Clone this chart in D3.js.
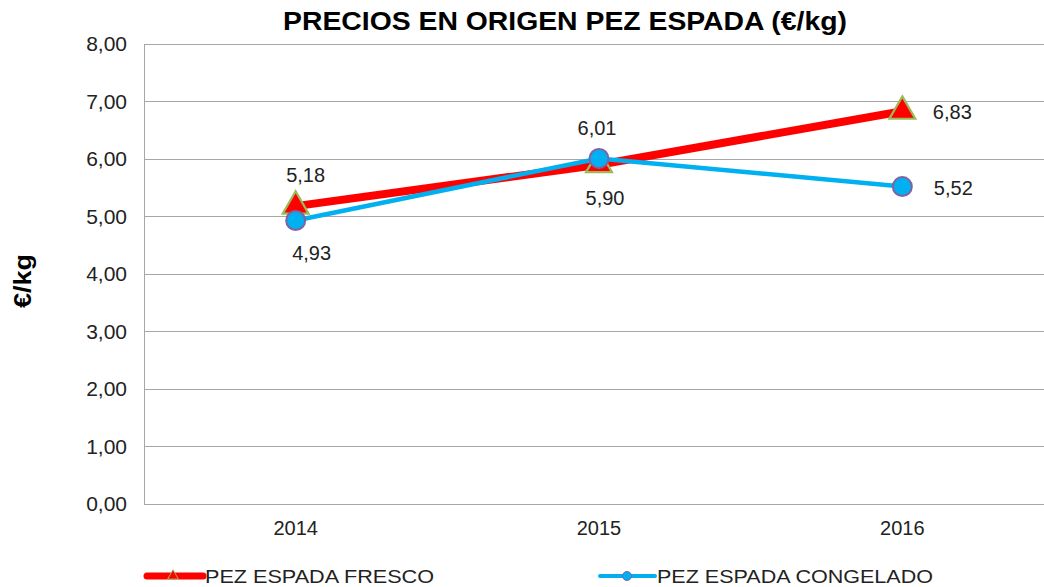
<!DOCTYPE html>
<html><head><meta charset="utf-8">
<script src="https://cdn.jsdelivr.net/npm/d3@7"></script>
<style>body{margin:0;background:#fff}svg{display:block;font-family:"Liberation Sans",Arial,sans-serif}</style>
</head><body><svg id="c" width="1044" height="587"></svg>
<script>
const categories = ["2014", "2015", "2016"];
const fresco = [5.18, 5.90, 6.83];
const congelado = [4.93, 6.01, 5.52];
const seriesNames = ["PEZ ESPADA FRESCO", "PEZ ESPADA CONGELADO"];
const yTicks = [0, 1, 2, 3, 4, 5, 6, 7, 8];
const title = "PRECIOS EN ORIGEN PEZ ESPADA (€/kg)";
const yLabel = "€/kg";

const svg = d3.select("#c");
const m = {l: 144, r: 1054, t: 44, b: 504};
const x = d3.scaleBand().domain(categories).range([m.l, m.r]);
const y = d3.scaleLinear().domain([0, 8]).range([m.b, m.t]);
const fmt = v => v.toFixed(2).replace(".", ",");

// grid
svg.append("g").selectAll("line").data(yTicks).join("line")
  .attr("x1", m.l).attr("x2", m.r)
  .attr("y1", d => y(d)).attr("y2", d => y(d))
  .attr("stroke", "#a6a6a6").attr("stroke-width", 1).attr("shape-rendering", "crispEdges");
svg.append("line").attr("x1", m.l).attr("x2", m.l).attr("y1", m.t).attr("y2", m.b)
  .attr("stroke", "#a6a6a6").attr("shape-rendering", "crispEdges");

// y axis labels
const ya = svg.append("g").attr("transform", `translate(${m.l},0)`)
  .call(d3.axisLeft(y).tickValues(yTicks).tickFormat(fmt).tickSize(0).tickPadding(17));
ya.select(".domain").remove();
ya.selectAll("text").attr("font-size", 21).attr("fill", "#222").attr("font-family", "Liberation Sans, Arial");

// x axis labels
const xa = svg.append("g").attr("transform", `translate(0,${m.b})`)
  .call(d3.axisBottom(x).tickSize(0).tickPadding(17));
xa.select(".domain").remove();
xa.selectAll("text").attr("font-size", 20).attr("fill", "#222").attr("font-family", "Liberation Sans, Arial");

// title
svg.append("text").attr("x", 565).attr("y", 30).attr("text-anchor", "middle")
  .attr("font-size", 25).attr("font-weight", "bold").attr("fill", "#000")
  .attr("textLength", 564).attr("lengthAdjust", "spacingAndGlyphs").text(title);
svg.append("text").attr("transform", "translate(31,281) rotate(-90)").attr("text-anchor", "middle")
  .attr("font-size", 23).attr("font-weight", "bold").attr("fill", "#000")
  .attr("textLength", 54).attr("lengthAdjust", "spacingAndGlyphs").text(yLabel);

const cx = c => x(c) + x.bandwidth() / 2;
const line = d3.line().x((d, i) => cx(categories[i])).y(d => y(d));
const tri = d3.symbol().type(d3.symbolTriangle).size(290);

// fresco
svg.append("path").attr("d", line(fresco)).attr("fill", "none").attr("stroke", "#ff0000").attr("stroke-width", 8);
svg.append("g").selectAll("path").data(fresco).join("path")
  .attr("d", tri).attr("transform", (d, i) => `translate(${cx(categories[i])},${y(d)})`)
  .attr("fill", "#ff0000").attr("stroke", "#9bbb59").attr("stroke-width", 2.2);

// congelado
svg.append("path").attr("d", line(congelado)).attr("fill", "none").attr("stroke", "#00b0f0").attr("stroke-width", 4.5);
svg.append("g").selectAll("circle").data(congelado).join("circle")
  .attr("cx", (d, i) => cx(categories[i])).attr("cy", d => y(d)).attr("r", 9.5)
  .attr("fill", "#00b0f0").attr("stroke", "#8064a2").attr("stroke-width", 2);

// data labels
const frescoPos = [[10, -24], [6, 40], [50, 8]];
const congPos = [[16, 39], [-2, -23], [51, 8]];
const labels = svg.append("g").attr("font-size", 20).attr("fill", "#222");
fresco.forEach((v, i) => labels.append("text").attr("text-anchor", "middle")
  .attr("x", cx(categories[i]) + frescoPos[i][0]).attr("y", y(v) + frescoPos[i][1]).text(fmt(v)));
congelado.forEach((v, i) => labels.append("text").attr("text-anchor", "middle")
  .attr("x", cx(categories[i]) + congPos[i][0]).attr("y", y(v) + congPos[i][1]).text(fmt(v)));

// legend
const lg = svg.append("g");
lg.append("line").attr("x1", 147).attr("x2", 203).attr("y1", 576).attr("y2", 576).attr("stroke", "#ff0000").attr("stroke-width", 7).attr("stroke-linecap", "round");
lg.append("path").attr("d", d3.symbol().type(d3.symbolTriangle).size(50)).attr("transform", "translate(173,576)").attr("fill", "#ff0000").attr("stroke", "#9bbb59").attr("stroke-width", 1);
lg.append("text").attr("x", 205).attr("y", 583).attr("font-size", 19).attr("fill", "#222")
  .attr("textLength", 229).attr("lengthAdjust", "spacingAndGlyphs").text(seriesNames[0]);
lg.append("line").attr("x1", 600).attr("x2", 655).attr("y1", 576).attr("y2", 576).attr("stroke", "#00b0f0").attr("stroke-width", 4).attr("stroke-linecap", "round");
lg.append("circle").attr("cx", 627).attr("cy", 576).attr("r", 4.5).attr("fill", "#00b0f0").attr("stroke", "#8064a2").attr("stroke-width", 1);
lg.append("text").attr("x", 657).attr("y", 583).attr("font-size", 19).attr("fill", "#222")
  .attr("textLength", 276).attr("lengthAdjust", "spacingAndGlyphs").text(seriesNames[1]);
</script></body></html>
